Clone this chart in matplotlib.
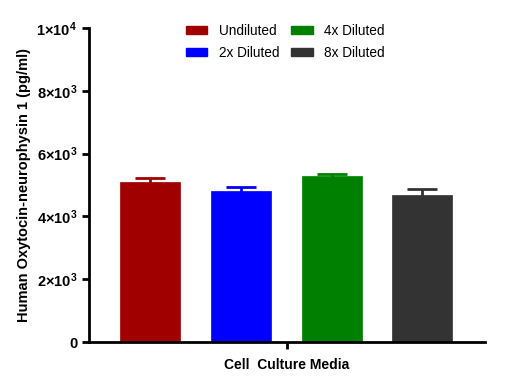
import matplotlib
matplotlib.use('Agg')
import matplotlib.pyplot as plt
from matplotlib.patches import Patch

plt.rcParams['font.family'] = ['Liberation Sans', 'DejaVu Sans']
plt.rcParams['mathtext.fontset'] = 'custom'
plt.rcParams['mathtext.rm'] = 'Liberation Sans:bold'
plt.rcParams['mathtext.bf'] = 'Liberation Sans:bold'
plt.rcParams['mathtext.it'] = 'Liberation Sans:bold'

groups = ['Undiluted', '2x Diluted', '4x Diluted', '8x Diluted']
means = [5090, 4810, 5280, 4680]
errs = [125, 140, 75, 200]
colors = ['#a00000', '#0000ff', '#008000', '#333333']
yticks = [0, 2000, 4000, 6000, 8000, 10000]
ytick_labels = ['0', r'$2{\times}10^{3}$', r'$4{\times}10^{3}$', r'$6{\times}10^{3}$',
                r'$8{\times}10^{3}$', r'$1{\times}10^{4}$']

fig = plt.figure(figsize=(5.29, 3.89), dpi=100)
ax = fig.add_axes([89/529, 1-342/389, (485-89)/529, (342-28)/389])

x = list(range(len(groups)))
for xi, m, e, c in zip(x, means, errs, colors):
    # symmetric bar; the lower half is hidden behind the bar
    ax.errorbar(xi, m, yerr=e, fmt='none', ecolor=c,
                elinewidth=2, capsize=10.8, capthick=2, zorder=1)
    ax.bar(xi, m, width=0.66, color=c, edgecolor=c, linewidth=0.5, zorder=2)

ax.set_xlim(-0.672, 3.69)
ax.set_ylim(0, 10000)
ax.set_yticks(yticks)
ax.set_yticklabels(ytick_labels, fontsize=10.5, fontweight='bold')
ax.set_xticks([1.51])
ax.set_xticklabels([''])
ax.set_xlabel('Cell  Culture Media', fontsize=10, fontweight='bold', labelpad=3)
ax.set_ylabel('Human Oxytocin-neurophysin 1 (pg/ml)', fontsize=10.5, fontweight='bold', labelpad=4)

for s in ['top', 'right']:
    ax.spines[s].set_visible(False)
for s in ['left', 'bottom']:
    ax.spines[s].set_linewidth(2)
ax.tick_params(width=2, length=5, direction='out')

handles = [Patch(facecolor=c, edgecolor=c) for c in colors]
ax.legend(handles, groups, ncol=2, frameon=False,
          loc='upper left', bbox_to_anchor=(0.213, 1.052), fontsize=9.8,
          handlelength=1.6, handleheight=0.5, columnspacing=0.85,
          handletextpad=0.85, labelspacing=0.6)

fig.savefig('out.png', dpi=100)
